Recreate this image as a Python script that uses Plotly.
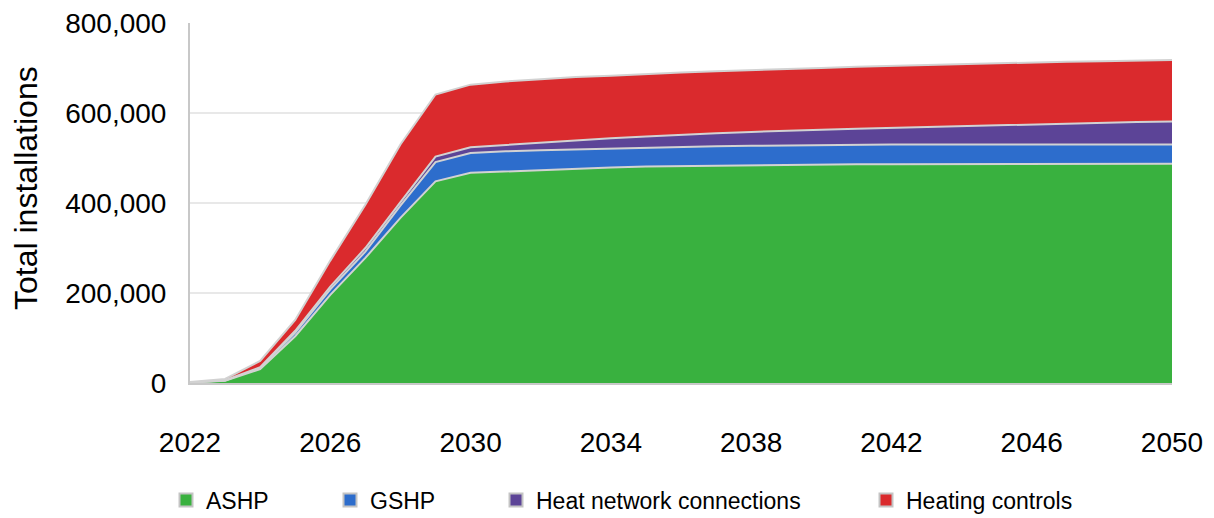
import plotly.graph_objects as go

years = list(range(2022, 2051))

# values in installations (stack increments)
ashp = [1000, 5000, 31000, 104000, 196000, 278000, 367000, 448000, 467000, 470000,
        474000, 476000, 479000, 481000, 482000, 483000, 484000, 485000, 485000, 486000,
        486000, 486000, 486000, 487000, 487000, 487000, 487000, 487000, 487000]
gshp = [200, 500, 3000, 8000, 12000, 14000, 27000, 43000, 44000, 45000,
        43000, 43000, 42000, 41000, 42000, 43000, 43000, 43000, 44000, 44000,
        44000, 44000, 44000, 43000, 43000, 43000, 43000, 43000, 43000]
heat_network = [100, 500, 1000, 4000, 6000, 8000, 8000, 12000, 13000, 14000,
                18000, 21000, 23000, 26000, 28000, 29000, 31000, 33000, 34000, 35000,
                37000, 39000, 40000, 42000, 44000, 46000, 48000, 50000, 51000]
heating_controls = [700, 3000, 14000, 24000, 58000, 96000, 128000, 138000, 139000, 141000,
                    140000, 140000, 139000, 139000, 138000, 138000, 137000, 137000, 137000, 138000,
                    138000, 138000, 139000, 139000, 138000, 138000, 137000, 137000, 137000]

series_names = ["ASHP", "GSHP", "Heat network connections", "Heating controls"]
series_values = [ashp, gshp, heat_network, heating_controls]
colors = ["#39B13F", "#2D6DCC", "#5C4497", "#DA2A2D"]

x_ticks = [2022, 2026, 2030, 2034, 2038, 2042, 2046, 2050]
y_ticks = [0, 200000, 400000, 600000, 800000]
y_title = "Total installations"

FONT = "Liberation Sans, Arial, sans-serif"
OFF = 8  # default page body margin
W, H = 1214 - OFF, 518 - OFF
L, R, T, B = 190 - OFF, 42, 23 - OFF, 135

fig = go.Figure()
for name, vals, col in zip(series_names, series_values, colors):
    fig.add_trace(go.Scatter(
        x=years, y=vals, name=name, stackgroup="one", mode="lines",
        line=dict(color="#d2d2d2", width=2), fillcolor=col,
        showlegend=False, hoverinfo="x+y+name"))

# legend entries (one legend each, to reproduce the spacing)
legend_centers = [186, 350, 516, 886]
legend_ids = ["legend", "legend2", "legend3", "legend4"]
for name, col, lid in zip(series_names, colors, legend_ids):
    fig.add_trace(go.Scatter(
        x=[None], y=[None], name=name, mode="markers",
        marker=dict(symbol="square", size=13, color=col,
                    line=dict(color="#c4c4c4", width=2)),
        legend=lid, showlegend=True))

legend_layout = {}
for lid, cx in zip(legend_ids, legend_centers):
    legend_layout[lid] = dict(
        orientation="h", xref="container", yref="container",
        x=(cx - OFF - 20) / W, y=1 - (500 - OFF) / H, xanchor="left", yanchor="middle",
        font=dict(family=FONT, size=23, color="#000000"),
        bgcolor="rgba(0,0,0,0)", borderwidth=0, itemwidth=30)

plot_h = H - T - B
fig.update_layout(
    width=W, height=H,
    margin=dict(l=L, r=R, t=T, b=B, autoexpand=False),
    paper_bgcolor="white", plot_bgcolor="white",
    font=dict(family=FONT, color="#000000"),
    annotations=[dict(
        text=y_title, textangle=-90, xref="paper", yref="paper",
        x=0, xshift=-(L - (26 - OFF)), xanchor="center",
        y=(383 - 188) / plot_h, yanchor="middle", showarrow=False,
        font=dict(family=FONT, size=32, color="#000000"))],
    **legend_layout,
)

fig.update_xaxes(
    range=[2022, 2050], tickvals=x_ticks, ticktext=[str(v) for v in x_ticks],
    showgrid=False, zeroline=False, showline=True, linecolor="#c8c8c8", linewidth=2,
    ticks="", tickfont=dict(family=FONT, size=28, color="#000000"),
    ticklabelstandoff=33, automargin=False, ticklabeloverflow="allow")

fig.update_yaxes(
    range=[0, 800000], tickvals=y_ticks, tickformat=",",
    showgrid=True, gridcolor="#e8e8e8", gridwidth=1.5, zeroline=False,
    showline=True, linecolor="#c8c8c8", linewidth=2,
    ticks="", tickfont=dict(family=FONT, size=28, color="#000000"),
    ticklabelstandoff=16, automargin=False, ticklabeloverflow="allow")

fig.write_html("out.html")
